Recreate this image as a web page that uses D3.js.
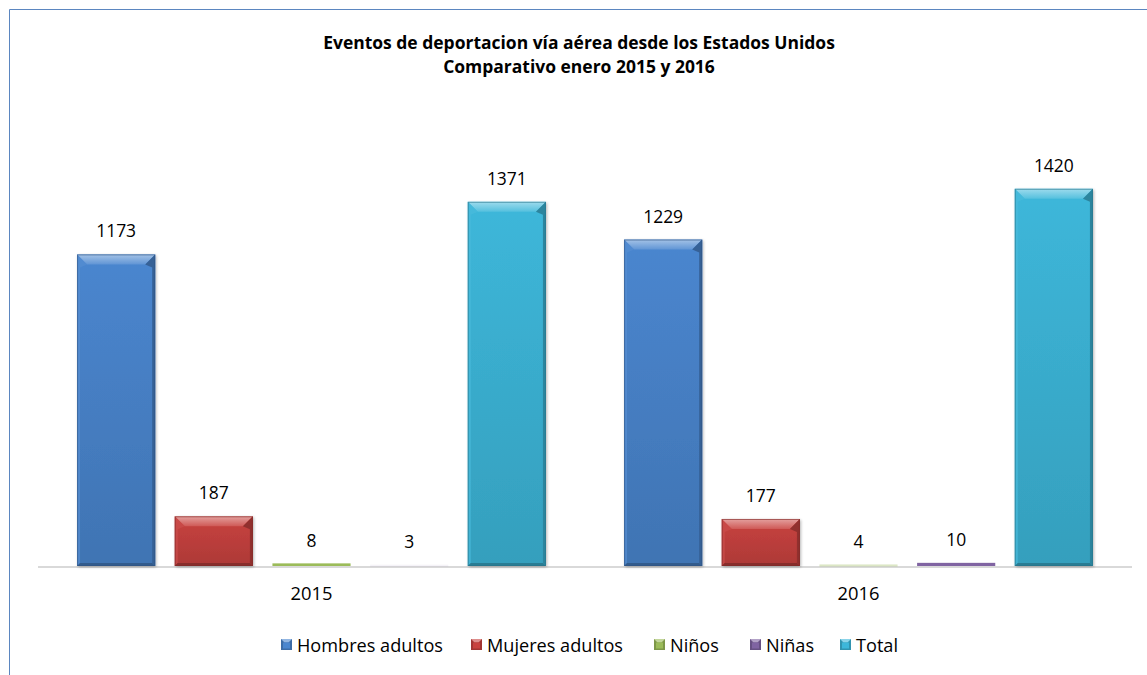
<!DOCTYPE html>
<html><head><meta charset="utf-8">
<script src="https://cdn.jsdelivr.net/npm/d3@7"></script>
<style>
html,body{margin:0;padding:0;background:#fff;}
svg{display:block;font-family:"Open Sans",Lato,sans-serif;}
</style></head>
<body><svg id="c" width="1147" height="675"></svg>
<script>
const categories = ["2015", "2016"];
const seriesNames = ["Hombres adultos", "Mujeres adultos", "Niños", "Niñas", "Total"];
const hombres = [1173, 1229];
const mujeres = [187, 177];
const ninos = [8, 4];
const ninas = [3, 10];
const total = [1371, 1420];
const seriesColors = ["#4A86CF", "#C8423F", "#9BBB59", "#8064A2", "#3DB7DA"];
const titleLines = ["Eventos de deportacion vía aérea desde los Estados Unidos", "Comparativo enero 2015 y 2016"];

const seriesValues = [hombres, mujeres, ninos, ninas, total];
const svg = d3.select("#c");

// font size fitting helper: size that makes `sample` reach `targetW` px
function fitSize(sample, targetW, weight) {
  const t = svg.append("text").attr("font-size", 100).attr("font-weight", weight || "normal").text(sample);
  const w = t.node().getComputedTextLength();
  t.remove();
  return 100 * targetW / w;
}
const valSize = Math.min(20, fitSize("1173", 40));
const catSize = Math.min(20, fitSize("2015", 42));
const legSize = Math.min(20, fitSize("Hombres adultos", 146));
const titleSize = Math.min(18, fitSize(titleLines[0], 512, "bold"));

// chart border (left & top visible)
svg.append("path").attr("d", "M9.5,675 L9.5,9.5 L1147,9.5").attr("fill","none").attr("stroke","#5B86C0").attr("stroke-width",1);

const x0 = d3.scaleBand().domain(categories).range([38, 1132]).paddingInner(0).paddingOuter(0);
const x1 = d3.scaleBand().domain(seriesNames).range([0, x0.bandwidth()]).paddingInner(0.2).paddingOuter(0.4);
const y = d3.scaleLinear().domain([0, 1600]).range([566, 141]);

const defs = svg.append("defs");
const f = defs.append("filter").attr("id","sh").attr("x","-20%").attr("y","-20%").attr("width","140%").attr("height","140%");
f.append("feGaussianBlur").attr("in","SourceAlpha").attr("stdDeviation",1.5);
f.append("feOffset").attr("dx",1).attr("dy",1).attr("result","o");
f.append("feComponentTransfer").append("feFuncA").attr("type","linear").attr("slope",0.3);
const m = f.append("feMerge"); m.append("feMergeNode"); m.append("feMergeNode").attr("in","SourceGraphic");

seriesNames.forEach((s,i)=>{
  const c = d3.color(seriesColors[i]);
  const g = defs.append("linearGradient").attr("id","top"+i).attr("x1",0).attr("y1",0).attr("x2",0).attr("y2",1);
  g.append("stop").attr("offset",0).attr("stop-color", d3.interpolateRgb(c, "#fff")(0.5));
  g.append("stop").attr("offset",1).attr("stop-color", d3.interpolateRgb(c, "#fff")(0.12));
  const b = defs.append("linearGradient").attr("id","body"+i).attr("x1",0).attr("y1",0).attr("x2",0).attr("y2",1);
  b.append("stop").attr("offset",0).attr("stop-color", c);
  b.append("stop").attr("offset",1).attr("stop-color", c.darker(0.4));
});

// axis line
svg.append("line").attr("x1",38).attr("x2",1132).attr("y1",567).attr("y2",567).attr("stroke","#D9D9D9").attr("stroke-width",2);

categories.forEach((cat, ci)=>{
  seriesNames.forEach((s, si)=>{
    const v = seriesValues[si][ci];
    const bx = x0(cat) + x1(s), bw = x1.bandwidth();
    const by = y(v), bb = y(0), bh = bb - by;
    const c = d3.color(seriesColors[si]);
    const g = svg.append("g");
    if (bh > 6) {
      g.append("rect").attr("x",bx).attr("y",by).attr("width",bw).attr("height",bh).attr("fill","url(#body"+si+")").attr("filter","url(#sh)");
      const t = Math.min(10, bh/3), sd = 3;
      g.append("polygon").attr("points",[[bx,by],[bx+bw,by],[bx+bw-t,by+t],[bx+t,by+t]].join(" ")).attr("fill","url(#top"+si+")");
      g.append("polygon").attr("points",[[bx,by],[bx+t,by+t],[bx+sd,by+t+3],[bx+sd,bb-sd],[bx,bb]].join(" ")).attr("fill", d3.interpolateRgb(c,"#fff")(0.06)).attr("fill-opacity",0.7);
      g.append("polygon").attr("points",[[bx+bw,by],[bx+bw-t,by+t],[bx+bw-sd,by+t+3],[bx+bw-sd,bb-sd],[bx+bw,bb]].join(" ")).attr("fill", c.darker(0.9));
      g.append("polygon").attr("points",[[bx,bb],[bx+sd,bb-sd],[bx+bw-sd,bb-sd],[bx+bw,bb]].join(" ")).attr("fill", c.darker(1.1));
      g.append("rect").attr("x",bx+0.5).attr("y",by+0.5).attr("width",bw-1).attr("height",bh-1).attr("fill","none").attr("stroke",c.darker(1.3)).attr("stroke-width",1).attr("stroke-opacity",0.6);
    } else {
      g.append("rect").attr("x",bx).attr("y",by-0.5).attr("width",bw).attr("height",Math.max(bh,1.5)+0.5).attr("fill",c).attr("opacity", v<4 ? 0.08 : v<5 ? 0.35 : 1);
    }
    svg.append("text").attr("x",bx+bw/2).attr("y",by-17).attr("text-anchor","middle")
      .attr("font-size",valSize).attr("fill","#000").text(v);
  });
  svg.append("text").attr("x",x0(cat)+x0.bandwidth()/2).attr("y",600).attr("text-anchor","middle")
    .attr("font-size",catSize).attr("fill","#000").text(cat);
});

// title
titleLines.forEach((t,i)=>{
  svg.append("text").attr("x",579).attr("y",49+i*24).attr("text-anchor","middle")
    .attr("font-size",titleSize).attr("font-weight","bold").attr("fill","#000").text(t);
});

// legend
const legX = [281, 471, 654, 750, 840];
seriesNames.forEach((s,i)=>{
  const c = d3.color(seriesColors[i]);
  const lg = svg.append("g").attr("transform",`translate(${legX[i]},639)`);
  lg.append("rect").attr("width",11).attr("height",11).attr("fill",c.darker(0.6));
  lg.append("polygon").attr("points","0,0 11,0 7.5,3.5 3.5,3.5").attr("fill", d3.interpolateRgb(c,"#fff")(0.4));
  lg.append("rect").attr("x",2).attr("y",3.5).attr("width",7).attr("height",6).attr("fill",c);
  lg.append("text").attr("x",16).attr("y",12.5).attr("font-size",legSize).attr("fill","#000").text(s);
});
</script></body></html>
